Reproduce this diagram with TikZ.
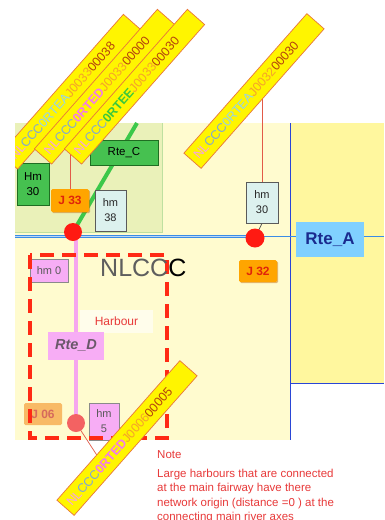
\documentclass[tikz,border=0pt]{standalone}
\usepackage{fontspec}
\setmainfont{Liberation Sans}
\usetikzlibrary{shadows}
\definecolor{palebg}{HTML}{FFFBCF}
\definecolor{deepbg}{HTML}{FFF79E}
\definecolor{greenbg}{HTML}{EAF1B9}
\definecolor{greenedge}{HTML}{BFE0A0}
\definecolor{vblue}{HTML}{2A46D6}
\definecolor{ablue}{HTML}{3A8CE6}
\definecolor{rtecgreen}{HTML}{3CC84A}
\definecolor{boxgreen}{HTML}{46C150}
\definecolor{boxgreenedge}{HTML}{1F6E22}
\definecolor{jorangefill}{HTML}{FFA500}
\definecolor{jred}{HTML}{E0240A}
\definecolor{hmcyan}{HTML}{DCF1EE}
\definecolor{hmedge}{HTML}{5A5A5A}
\definecolor{rteablue}{HTML}{80D0FF}
\definecolor{rteatext}{HTML}{1A2B8F}
\definecolor{pinkfill}{HTML}{F7ADF5}
\definecolor{pinkline}{HTML}{F6A6EE}
\definecolor{pinkedge}{HTML}{8A8A8A}
\definecolor{rtedtext}{HTML}{6A586A}
\definecolor{dotred}{HTML}{FF1A12}
\definecolor{dotpale}{HTML}{F36262}
\definecolor{dashred}{HTML}{FF2A14}
\definecolor{notered}{HTML}{E83A3A}
\definecolor{thinred}{HTML}{E25A48}
\definecolor{lblyellow}{HTML}{FFF500}
\definecolor{lblborder}{HTML}{E8763A}
\definecolor{nlpink}{HTML}{F5A3E3}
\definecolor{cccblue}{HTML}{7FA6D6}
\definecolor{rteacol}{HTML}{96D2EA}
\definecolor{rtedcol}{HTML}{F27AEA}
\definecolor{rteecol}{HTML}{3CC83C}
\definecolor{jorange}{HTML}{F5A22A}
\definecolor{jbrown}{HTML}{B4420E}
\definecolor{nlgray}{HTML}{5E5E5E}
\definecolor{j06fill}{HTML}{F8BA66}
\definecolor{j06text}{HTML}{D66A5C}
\newcommand\nlpart{\textcolor{nlpink}{NL}\textcolor{cccblue}{CCC}}
\pgfdeclarelayer{bg}
\pgfdeclarelayer{wires}
\pgfsetlayers{bg,wires,main}
\begin{document}
\begin{tikzpicture}[x=1pt,y=-1pt,
  gbox/.style={draw=boxgreenedge, line width=0.6pt, fill=boxgreen, inner sep=0pt, align=center,
    font=\fontsize{11.5}{15}\selectfont},
  hmbox/.style={draw=hmedge, line width=0.6pt, fill=hmcyan, inner sep=0pt, align=center,
    text=black!85, font=\fontsize{11}{15}\selectfont},
  pbox/.style={draw=pinkedge, line width=0.6pt, fill=pinkfill, inner sep=0pt, align=center,
    text=black!65, font=\fontsize{11}{15}\selectfont},
  jbox/.style={fill=jorangefill, rounded corners=1.5pt, inner sep=0pt, text=jred,
    minimum width=38pt, font=\fontsize{12}{14}\selectfont\bfseries,
    drop shadow={shadow xshift=1.2pt, shadow yshift=-1.2pt, fill=orange!75!black, opacity=0.45}},
  dotstyle/.style={circle, inner sep=0pt, fill=dotred},
  thinred/.style={draw=thinred, line width=0.7pt},
  lbl/.style={draw=lblborder, line width=0.7pt, fill=lblyellow, rotate=48.6,
    minimum width=186pt, minimum height=23pt, inner xsep=5pt, inner ysep=0pt,
    text width=176pt, align=left, font=\fontsize{12.5}{14}\selectfont},
  notetext/.style={anchor=base west, inner sep=0pt, text=notered, font=\fontsize{11.5}{14}\selectfont}]
\useasboundingbox (0,0) rectangle (384,520);
\clip (0,0) rectangle (384,520);

% ---------- background regions ----------
\begin{pgfonlayer}{bg}
\fill[white] (0,0) rectangle (384,520);
\fill[palebg] (15,123) rectangle (290,440);
\fill[deepbg] (290,123) rectangle (384,383);
\fill[greenbg] (15,123) rectangle (162,232);
\draw[greenedge, line width=0.8pt] (162,123) -- (162,232) -- (15,232);
\draw[vblue, line width=0.9pt] (290,123) -- (290,440);
\draw[vblue, line width=0.9pt] (290,383) -- (384,383);
\end{pgfonlayer}

% ---------- nodes ----------
\node[dotstyle, minimum size=18pt] (d1) at (73,232) {};
\node[dotstyle, minimum size=19pt] (d2) at (255,238) {};
\node[dotstyle, fill=dotpale, minimum size=18pt] (d3) at (76,423) {};

\node[gbox, minimum width=68pt, minimum height=25pt] (rtec) at (124,152.5) {Rte\_C};
\node[gbox, minimum width=32pt, minimum height=42pt] (hm30l) at (33,184) {Hm\\30};
\node[jbox, minimum height=23pt] (j33) at (70,200.5) {J 33};
\node[hmbox, minimum width=31pt, minimum height=41pt] (hm38) at (110.5,210.5) {hm\\38};
\node[hmbox, minimum width=32pt, minimum height=41pt] (hm30r) at (262,202.5) {hm\\30};
\node[fill=rteablue, inner sep=0pt, minimum width=68pt, minimum height=35pt, text=rteatext,
  font=\fontsize{17}{20}\selectfont\bfseries] (rtea) at (330,239.5) {Rte\_A};
\node[jbox, minimum height=22pt] (j32) at (258,271) {J 32};
\node[pbox, minimum width=38pt, minimum height=23pt] (hm0) at (49,270.5) {hm 0};
\node[fill=white, fill opacity=0.6, text opacity=1, inner sep=0pt, minimum width=73pt,
  minimum height=23pt, text=notered, font=\fontsize{12}{14}\selectfont] (harbour) at (116.5,321) {Harbour};
\node[fill=pinkfill, inner sep=0pt, minimum width=56pt, minimum height=28pt, text=rtedtext,
  font=\fontsize{14.5}{16}\selectfont\bfseries\itshape] (rted) at (76,345.5) {Rte\_D};
\node[fill=j06fill, rounded corners=1.5pt, inner sep=0pt, minimum width=38pt, minimum height=22pt,
  text=j06text, font=\fontsize{12}{14}\selectfont\bfseries] (j06) at (43,414) {J 06};
\node[pbox, minimum width=30pt, minimum height=37pt] (hm5) at (104,421.5) {hm\\5};

% ---------- connectors ----------
\coordinate (aW) at (15,236.5);
\coordinate (aE) at (384,236.5);
\coordinate (gtop) at (137,123);
\coordinate (l3foot) at (70,150);
\coordinate (l4foot) at (262,95);
\coordinate (l5foot) at (100,460);
\begin{pgfonlayer}{wires}
\draw[ablue, line width=0.9pt, double=ablue!35, double distance=1.3pt] (aW) -- (aW -| d2);
\draw[ablue, line width=1.6pt] (aW -| d2) -- (aE);
\draw[rtecgreen, line width=4pt] (d1.center) -- (gtop);
\draw[pinkline, line width=4.5pt] (d3.center |- d1.center) -- (d3.center);
\draw[hmedge, line width=0.8pt] (hm30r.south) -- (d2.center);
\draw[thinred] (j33.north) -- (l3foot);
\draw[thinred] (hm30r.north) -- (l4foot);
\draw[thinred] (d3.center) -- (l5foot);
\end{pgfonlayer}

% ---------- harbour zone ----------
\draw[dashred, line width=3.5pt, dash pattern=on 14pt off 8pt] (30,255) rectangle (167,438);
\node[anchor=base west, inner sep=0pt, font=\fontsize{25}{28}\selectfont] (nlccc) at (100,276)
  {\textcolor{nlgray}{NLCC}\textcolor{black}{C}};

% ---------- labels ----------
\begin{scope}
\clip (15,0) rectangle (384,520);
\node[lbl] (lab1) at (70.5,91.7) {\nlpart\textcolor{rteacol}{0RTEA}\textcolor{jorange}{J0033}\textcolor{jbrown}{00038}};
\end{scope}
\node[lbl] (lab2) at (104.5,86.7) {\nlpart\textcolor{rtedcol}{\bfseries 0RTED}\textcolor{jorange}{J0033}\textcolor{jbrown}{00000}};
\node[lbl] (lab3) at (134.5,86.7) {\nlpart\textcolor{rteecol}{\bfseries 0RTEE}\textcolor{jorange}{J0033}\textcolor{jbrown}{00030}};
\node[lbl] (lab4) at (254,91) {\nlpart\textcolor{rteacol}{0RTEA}\textcolor{jorange}{J0032}\textcolor{jbrown}{00030}};
\node[lbl] (lab5) at (127,438) {\nlpart\textcolor{rtedcol}{\bfseries 0RTED}\textcolor{jorange}{J0006}\textcolor{jbrown}{00005}};

% ---------- note ----------
\node[notetext] (note) at (157,458) {Note};
\node[notetext] (n1) at (157,477) {Large harbours that are connected};
\node[notetext] (n2) at (157,491.5) {at the main fairway have there};
\node[notetext] (n3) at (157,506) {network origin (distance =0 ) at the};
\node[notetext] (n4) at (157,520.5) {connecting main river axes};
\end{tikzpicture}
\end{document}
